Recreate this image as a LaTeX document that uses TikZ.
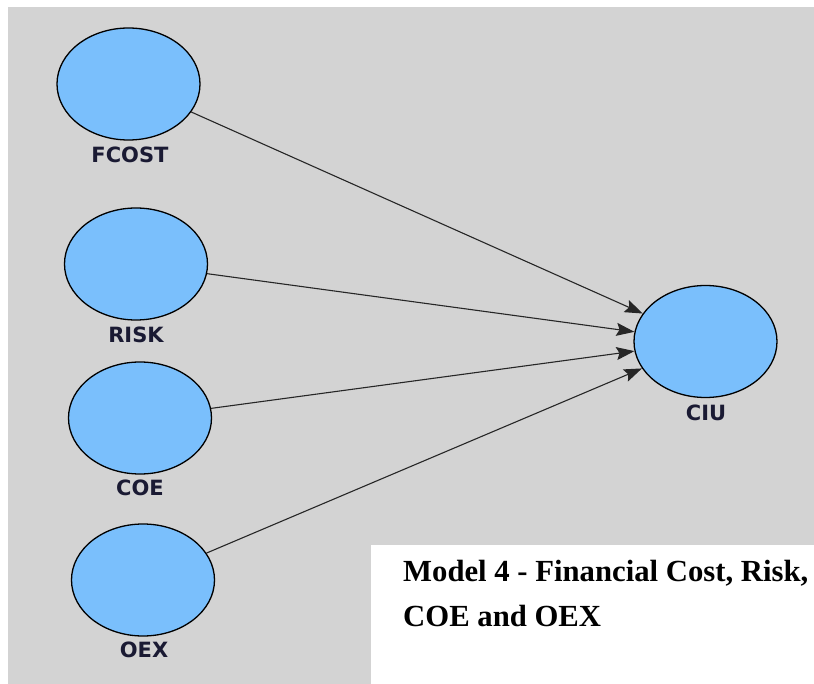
\documentclass[tikz,border=0pt]{standalone}
\usepackage{fontspec}
\usetikzlibrary{shapes.geometric,arrows.meta}
\newfontfamily\labelfont{DejaVu Sans}
\setmainfont{Liberation Serif}
\definecolor{canvas}{HTML}{D3D3D3}
\definecolor{latent}{HTML}{7ABFFC}
\definecolor{labelink}{HTML}{1A1A33}
\tikzset{
  construct/.style={ellipse, draw=black, line width=1.3pt, fill=latent,
    minimum width=143pt, minimum height=112pt, inner sep=0pt},
  varname/.style={font=\labelfont\bfseries\fontsize{21}{21}\selectfont, text=labelink, inner sep=0pt},
  path/.style={draw=black!85, line width=1.1pt, -{Stealth[length=18pt,width=13pt,inset=3pt]}}
}
\begin{document}
\begin{tikzpicture}[x=1pt,y=-1pt]
\useasboundingbox (0,0) rectangle (814,684);
\fill[canvas] (8,7) rectangle (814,684);
\fill[white] (371,545) rectangle (814,684);

\node[construct] (fcost) at (128.5,84) {};
\node[construct] (risk)  at (136,264) {};
\node[construct] (coe)   at (140,418) {};
\node[construct] (oex)   at (143,580) {};
\node[construct] (ciu)   at (705.5,341.5) {};

\node[varname] (lfcost) at (130,155) {FCOST};
\node[varname] (lrisk)  at (136,335) {RISK};
\node[varname] (lcoe)   at (140,488) {COE};
\node[varname] (loex)   at (144,650) {OEX};
\node[varname] (lciu)   at (706,413) {CIU};

\draw[path] (fcost) -- (ciu);
\draw[path] (risk) -- (ciu);
\draw[path] (coe) -- (ciu);
\draw[path] (oex) -- (ciu);

\node[anchor=north west, align=left, inner sep=0pt,
      font=\bfseries\fontsize{30.7}{45}\selectfont] (caption) at (403,560)
  {Model 4 - Financial Cost, Risk,\\COE and OEX};
\end{tikzpicture}
\end{document}
